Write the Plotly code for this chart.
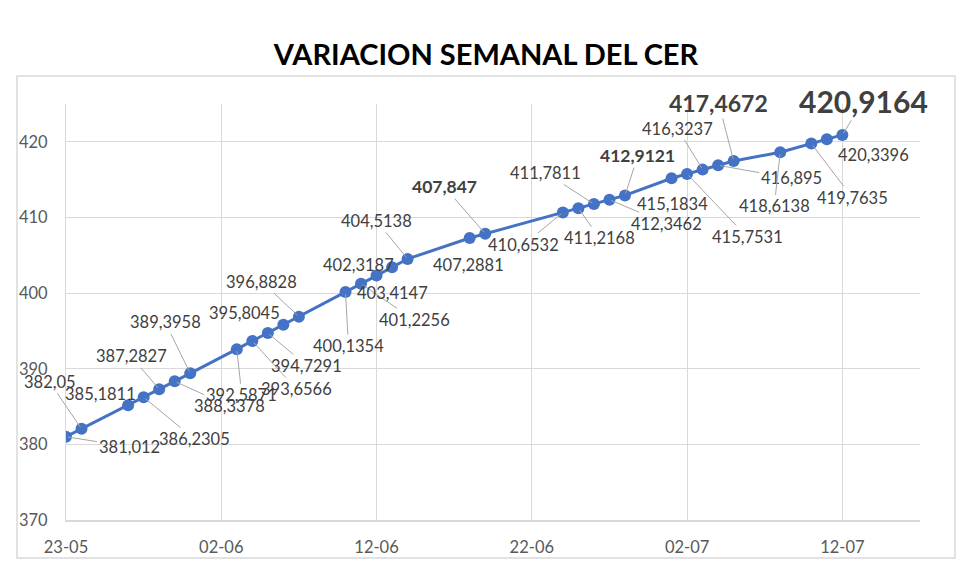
import plotly.graph_objects as go

# ---- data ----
dates = [
    "2024-05-23", "2024-05-24", "2024-05-27", "2024-05-28", "2024-05-29",
    "2024-05-30", "2024-05-31", "2024-06-03", "2024-06-04", "2024-06-05",
    "2024-06-06", "2024-06-07", "2024-06-10", "2024-06-11", "2024-06-12",
    "2024-06-13", "2024-06-14", "2024-06-18", "2024-06-19", "2024-06-24",
    "2024-06-25", "2024-06-26", "2024-06-27", "2024-06-28", "2024-07-01",
    "2024-07-02", "2024-07-03", "2024-07-04", "2024-07-05", "2024-07-08",
    "2024-07-10", "2024-07-11", "2024-07-12",
]
values = [
    381.012, 382.05, 385.1811, 386.2305, 387.2827,
    388.3378, 389.3958, 392.5871, 393.6566, 394.7291,
    395.8045, 396.8828, 400.1354, 401.2256, 402.3187,
    403.4147, 404.5138, 407.2881, 407.847, 410.6532,
    411.2168, 411.7811, 412.3462, 412.9121, 415.1834,
    415.7531, 416.3237, 416.895, 417.4672, 418.6138,
    419.7635, 420.3396, 420.9164,
]
labels = [str(v).replace(".", ",") for v in values]

y_ticks = [370, 380, 390, 400, 410, 420]

# ---- label placement / styling (pixel offsets from each point) ----
offsets = [
    (63, 10, True), (-32, -47, True), (-28, -11, False), (51, 42, True), (-28, -33, True),
    (55, 25, True), (-25, -51, True), (5, 46, True), (44, 48, True), (39, 33, True),
    (-39, -12, False), (-37, -35, True), (3, 54, True), (53, 36, True), (-18, -11, False),
    (0, 26, False), (-31, -38, True), (-1, 27, False), (-41, -47, True), (-39, 32, True),
    (21, 30, True), (-48, -31, True), (57, 24, True), (13, -40, True), (1, 26, False),
    (60, 63, True), (-25, -41, True), (73, 13, True), (-15, -58, True), (-6, 54, True),
    (41, 54, True), (47, 16, False), (21, -34, True),
]
special = {18: (17.5, True), 23: (17.5, True), 28: (23, True), 32: (30, True)}

FONT = "Lato, 'Open Sans', sans-serif"
LINE_BLUE = "#4472C4"
GRID = "#d9d9d9"

# page has an 8px body margin: figure is 964x563 placed at (8, 8)
W, H = 964, 563
L, T = 58, 96
PW, PH = 854, 416

fig = go.Figure()
fig.add_trace(go.Scatter(
    x=dates, y=values, mode="lines+markers",
    line=dict(color=LINE_BLUE, width=3),
    marker=dict(color=LINE_BLUE, size=12),
    hoverinfo="skip", showlegend=False,
))

annotations = []
for i, (d, v, lab) in enumerate(zip(dates, values, labels)):
    dx, dy, leader = offsets[i]
    size, bold = special.get(i, (16.5, False))
    text = f"<b>{lab}</b>" if bold else lab
    font = dict(family=FONT, size=size, color="#404040")
    if leader:
        annotations.append(dict(
            x=d, y=v, xref="x", yref="y", text=text, font=font,
            showarrow=True, ax=dx, ay=dy, arrowhead=0, arrowwidth=1,
            arrowcolor="#a6a6a6", standoff=2,
        ))
    else:
        annotations.append(dict(
            x=d, y=v, xref="x", yref="y", text=text, font=font,
            showarrow=False, xshift=dx, yshift=-dy,
        ))

fig.update_layout(
    width=W, height=H,
    margin=dict(l=L, r=W - L - PW, t=T, b=H - T - PH, autoexpand=False),
    paper_bgcolor="white", plot_bgcolor="white",
    title=dict(
        text="<b>VARIACION SEMANAL DEL CER</b>",
        font=dict(family=FONT, size=29, color="#000000"),
        x=478 / W, xanchor="center", y=1 - 47 / H, yanchor="middle",
        xref="container", yref="container",
    ),
    annotations=annotations,
    shapes=[dict(
        type="rect", xref="paper", yref="paper",
        x0=(17 - 66) / PW, x1=(955 - 66) / PW,
        y0=(520 - 558) / PH, y1=(520 - 76) / PH,
        line=dict(color="#d9d9d9", width=1.5), fillcolor="rgba(0,0,0,0)",
        layer="below",
    )],
)

fig.update_xaxes(
    type="date", range=["2024-05-23", "2024-07-17"],
    tick0="2024-05-23", dtick=10 * 86400000, tickformat="%d-%m",
    showgrid=True, gridcolor=GRID, gridwidth=1,
    showline=True, linecolor=GRID, linewidth=1.5,
    ticks="", ticklabelstandoff=11,
    tickfont=dict(family=FONT, size=16.5, color="#595959"),
    zeroline=False,
)
fig.update_yaxes(
    range=[370, 425], tickvals=y_ticks,
    showgrid=True, gridcolor=GRID, gridwidth=1,
    showline=True, linecolor=GRID, linewidth=1,
    ticks="", ticklabelstandoff=14,
    tickfont=dict(family=FONT, size=16.5, color="#595959"),
    zeroline=False,
)

fig.write_html("out.html")
